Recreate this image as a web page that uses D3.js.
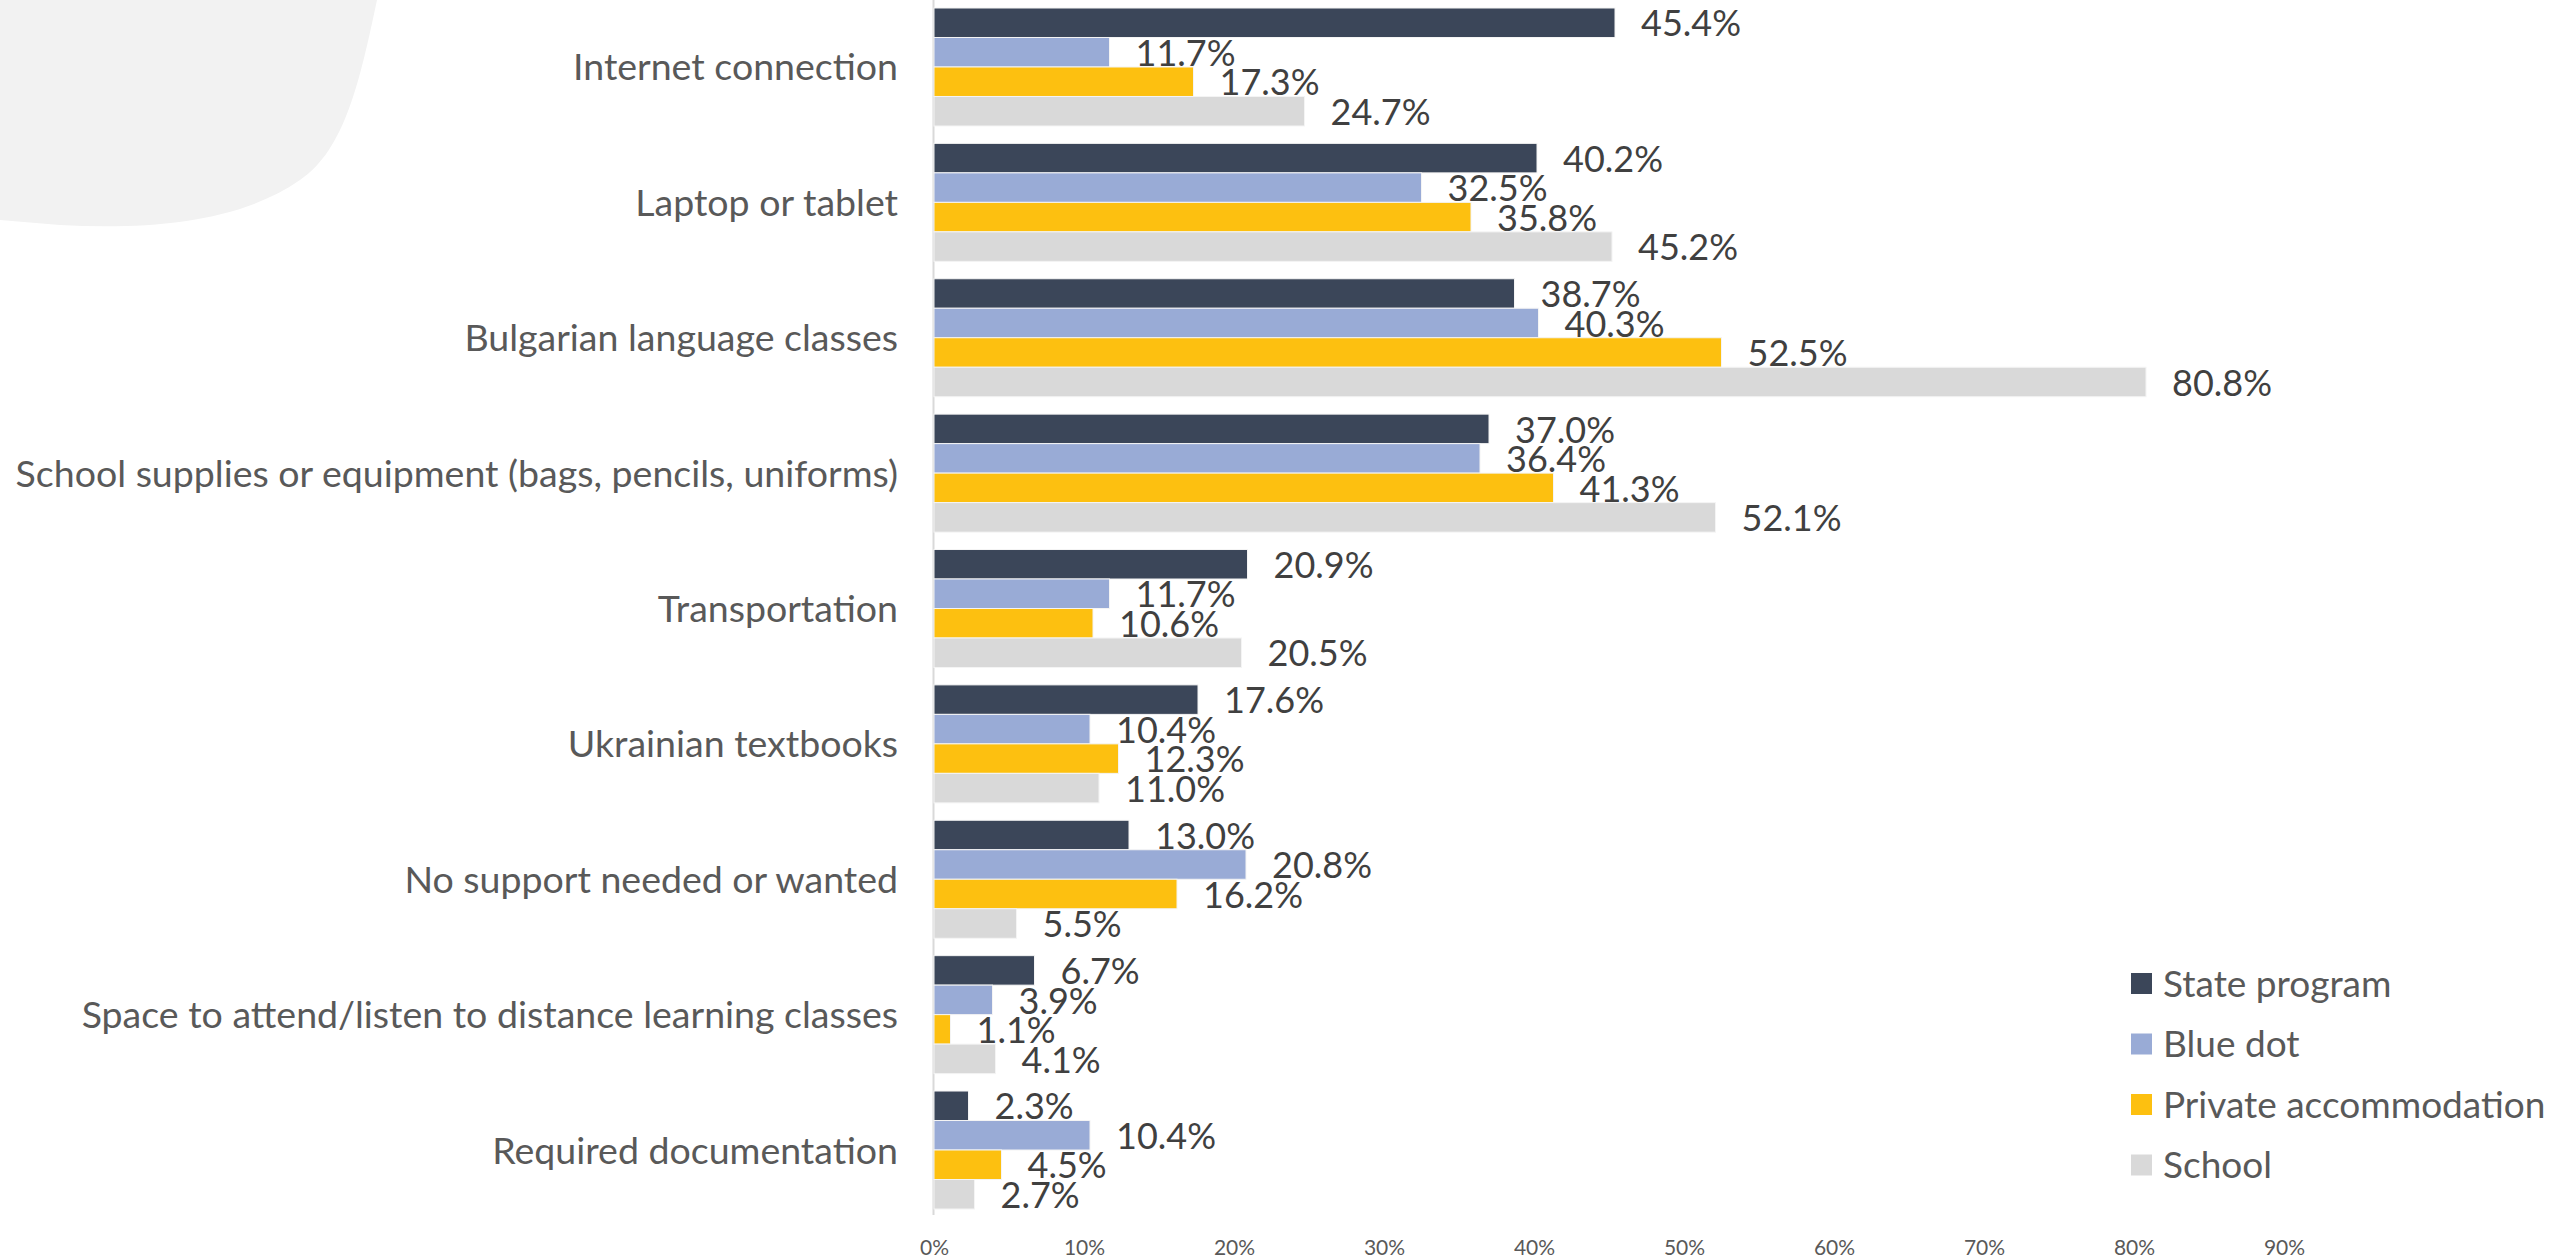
<!DOCTYPE html>
<html>
<head>
<meta charset="utf-8">
<script src="https://cdn.jsdelivr.net/npm/d3@7"></script>
<style>
    body { margin: 0; background: #fff; }
    svg { display: block; font-family: Lato, "Open Sans", sans-serif; }
</style>
</head>
<body>
<div id="chart"></div>
<script>
const categories = [
    'Internet connection',
    'Laptop or tablet',
    'Bulgarian language classes',
    'School supplies or equipment (bags, pencils, uniforms)',
    'Transportation',
    'Ukrainian textbooks',
    'No support needed or wanted',
    'Space to attend/listen to distance learning classes',
    'Required documentation'
]

const seriesNames = ['State program', 'Blue dot', 'Private accommodation', 'School']

const statePrograms = [45.4, 40.2, 38.7, 37.0, 20.9, 17.6, 13.0, 6.7, 2.3]
const blueDot = [11.7, 32.5, 40.3, 36.4, 11.7, 10.4, 20.8, 3.9, 10.4]
const privateAccommodation = [17.3, 35.8, 52.5, 41.3, 10.6, 12.3, 16.2, 1.1, 4.5]
const school = [24.7, 45.2, 80.8, 52.1, 20.5, 11.0, 5.5, 4.1, 2.7]

const tickValues = [0, 10, 20, 30, 40, 50, 60, 70, 80, 90]

const colors = ['#3b4659', '#99abd6', '#fdc010', '#d9d9d9']

const width = 2554;
const height = 1260;

const seriesValues = [statePrograms, blueDot, privateAccommodation, school];

const svg = d3.select('#chart')
    .append('svg')
    .attr('width', width)
    .attr('height', height);

// light decorative blob in the top-left corner
svg.append('path')
    .attr('d', 'M0,0 H377 C360,80 345,150 300,180 C240,222 150,230 60,225 L0,220 Z')
    .attr('fill', '#f2f2f2');

const x = d3.scaleLinear()
    .domain([0, 90])
    .range([934, 934 + 90 * 15]);

const y = d3.scaleBand()
    .domain(categories)
    .range([8, 1209])
    .paddingInner(0.1285)
    .paddingOuter(0);

const ySub = d3.scaleBand()
    .domain(seriesNames)
    .range([0, y.bandwidth()]);

// vertical axis line
svg.append('line')
    .attr('x1', x(0) - 0.5).attr('x2', x(0) - 0.5)
    .attr('y1', 0).attr('y2', 1215)
    .attr('stroke', '#d9d9d9')
    .attr('stroke-width', 2);

const rows = categories.map((c, i) => ({
    category: c,
    values: seriesNames.map((s, j) => ({ series: s, value: seriesValues[j][i], color: colors[j] }))
}));

const groups = svg.append('g')
    .selectAll('g')
    .data(rows)
    .join('g')
    .attr('transform', d => `translate(0,${y(d.category)})`);

groups.selectAll('rect')
    .data(d => d.values)
    .join('rect')
    .attr('x', x(0))
    .attr('y', d => ySub(d.series))
    .attr('width', d => x(d.value) - x(0))
    .attr('height', ySub.bandwidth())
    .attr('fill', d => d.color)
    .attr('stroke', '#f4f4f4')
    .attr('stroke-width', 1);

groups.selectAll('text.value')
    .data(d => d.values)
    .join('text')
    .attr('class', 'value')
    .attr('x', d => x(d.value) + 26)
    .attr('y', d => ySub(d.series) + ySub.bandwidth() / 2)
    .attr('dy', '0.38em')
    .attr('font-size', '36px')
    .attr('fill', '#404040')
    .text(d => d.value.toFixed(1) + '%');

// category labels
svg.append('g')
    .selectAll('text')
    .data(categories)
    .join('text')
    .attr('x', 898)
    .attr('y', d => y(d) + y.bandwidth() / 2)
    .attr('dy', '0.36em')
    .attr('text-anchor', 'end')
    .attr('font-size', '37.5px')
    .attr('fill', '#595959')
    .text(d => d);

// bottom axis, labels only
const xAxis = svg.append('g')
    .attr('transform', 'translate(0,1237)')
    .call(d3.axisBottom(x).tickValues(tickValues).tickSize(0).tickFormat(d => d + '%'));
xAxis.select('.domain').remove();
xAxis.selectAll('text')
    .attr('font-family', 'Lato, sans-serif')
    .attr('font-size', '21px')
    .attr('fill', '#595959');

// legend
const legend = svg.append('g')
    .selectAll('g')
    .data(seriesNames)
    .join('g')
    .attr('transform', (d, i) => `translate(2131,${973 + i * 60.5})`);

legend.append('rect')
    .attr('width', 21)
    .attr('height', 21)
    .attr('fill', (d, i) => colors[i]);

legend.append('text')
    .attr('x', 32)
    .attr('y', 10.5)
    .attr('dy', '0.36em')
    .attr('font-size', '37px')
    .attr('fill', '#595959')
    .text(d => d);
</script>
</body>
</html>
